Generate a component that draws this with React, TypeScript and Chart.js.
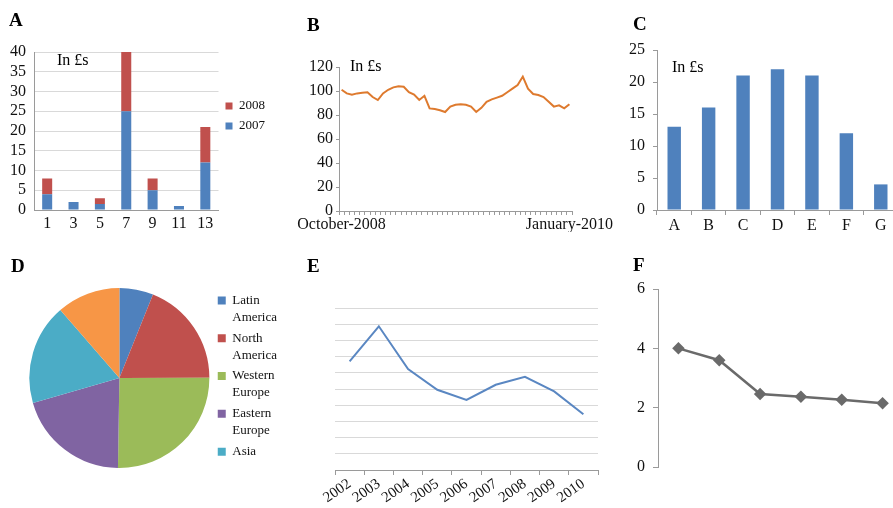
import React, { useEffect, useRef } from 'react';
import { Chart, registerables } from 'chart.js';
Chart.register(...registerables);

const SERIF = '"Liberation Serif", "Times New Roman", Times, serif';
Chart.defaults.font.family = SERIF;
Chart.defaults.font.size = 16;
Chart.defaults.color = '#111';

// ---------- Panel A ----------
const aCategories = ['1', '3', '5', '7', '9', '11', '13'];
const a2007 = [4, 2, 1.5, 25, 5, 1, 12];
const a2008 = [4, 0, 1.5, 15, 3, 0, 9];
const aSeriesNames = ['2007', '2008'];
const aTicks = { min: 0, max: 40, step: 5 };

// ---------- Panel B ----------
const bStartLabel = 'October-2008';
const bEndLabel = 'January-2010';
const bValues = [
  101, 98, 97, 98, 98.5, 99, 95, 92.5, 98, 101,
  103, 104, 103.5, 99, 97, 92.5, 96, 85.5, 85, 84,
  82.5, 87, 88.5, 89, 88.5, 87, 82.5, 86, 91, 93,
  94.5, 96, 99, 102, 105, 112, 102, 97.5, 96.7, 95,
  91, 87, 88, 85.5, 89,
];
const bTicks = { min: 0, max: 120, step: 20 };

// ---------- Panel C ----------
const cCategories = ['A', 'B', 'C', 'D', 'E', 'F', 'G'];
const cValues = [13, 16, 21, 22, 21, 12, 4];
const cTicks = { min: 0, max: 25, step: 5 };

// ---------- Panel D ----------
const dLabels = [['Latin', 'America'], ['North', 'America'], ['Western', 'Europe'], ['Eastern', 'Europe'], ['Asia'], ['Other']];
const dValues = [6.1, 18.9, 25.3, 20.3, 18.1, 11.4];
const dLegendCount = 5;

// ---------- Panel E ----------
const eYears = ['2002', '2003', '2004', '2005', '2006', '2007', '2008', '2009', '2010'];
const eValues = [6.7, 8.87, 6.23, 4.95, 4.33, 5.26, 5.75, 4.85, 3.44];
const eTicks = { min: 0, max: 10, step: 1 };

// ---------- Panel F ----------
const fCategories = ['1', '2', '3', '4', '5', '6'];
const fValues = [4.0, 3.6, 2.46, 2.37, 2.27, 2.15];
const fTicks = { min: 0, max: 6, step: 2 };

// ---------- styles ----------
const BLUE = '#4F81BD';
const RED = '#C0504D';
const GREEN = '#9BBB59';
const PURPLE = '#8064A2';
const TEAL = '#4BACC6';
const ORANGE = '#F79646';
const AXIS = '#9a9a9a';
const GRID = '#d9d9d9';

const LETTER_FONT = `bold 19px ${SERIF}`;
const LABEL_FONT = `16px ${SERIF}`;

const letterTitle = (text: string, top: number, bottom: number) => ({
  display: true,
  text,
  align: 'start' as const,
  color: '#000',
  font: { family: SERIF, size: 19, weight: 'bold' as const, lineHeight: 1.2 },
  padding: { top, bottom },
});

type TextItem = { text: string; x: number; y: number; font: string };
const textOverlay = (items: TextItem[]) => ({
  id: 'textOverlay',
  afterDraw(chart: any) {
    const ctx = chart.ctx;
    ctx.save();
    items.forEach((it) => {
      ctx.font = it.font;
      ctx.fillStyle = '#000';
      ctx.textBaseline = 'middle';
      ctx.textAlign = 'left';
      ctx.fillText(it.text, it.x, it.y);
    });
    ctx.restore();
  },
});

function configA() {
  return {
    type: 'bar',
    data: {
      labels: aCategories,
      datasets: [
        { label: aSeriesNames[0], data: a2007, backgroundColor: BLUE, borderWidth: 0, barPercentage: 0.38, categoryPercentage: 1 },
        { label: aSeriesNames[1], data: a2008, backgroundColor: RED, borderWidth: 0, barPercentage: 0.38, categoryPercentage: 1 },
      ],
    },
    options: {
      responsive: false,
      animation: false,
      layout: { padding: { left: 9, right: 0, top: 0, bottom: 0 } },
      plugins: {
        title: letterTitle('A', 9.5, 19.7),
        legend: {
          position: 'right',
          reverse: true,
          labels: { boxWidth: 7, boxHeight: 7, padding: 7, font: { size: 13 }, color: '#111' },
        },
        tooltip: { enabled: false },
      },
      scales: {
        x: {
          stacked: true,
          grid: { drawOnChartArea: false, drawTicks: false },
          border: { color: AXIS },
          ticks: { padding: 4 },
          afterFit: (s: any) => { s.height = 22; },
        },
        y: {
          stacked: true,
          min: aTicks.min,
          max: aTicks.max,
          ticks: { stepSize: aTicks.step, padding: 8, autoSkip: false },
          grid: { color: GRID, drawTicks: false },
          border: { color: AXIS },
          afterFit: (s: any) => { s.width = 25; },
        },
      },
    },
    plugins: [textOverlay([{ text: 'In £s', x: 57, y: 61, font: LABEL_FONT }])],
  };
}

function configB() {
  const labels = bValues.map((_, i) => (i === 0 ? bStartLabel : i === bValues.length - 1 ? bEndLabel : ''));
  return {
    type: 'line',
    data: {
      labels,
      datasets: [{ data: bValues, borderColor: '#DE7A2E', borderWidth: 2, pointRadius: 0, tension: 0, fill: false }],
    },
    options: {
      responsive: false,
      animation: false,
      layout: { padding: { left: 9, right: 48, top: 67, bottom: 0 } },
      plugins: {
        legend: { display: false },
        tooltip: { enabled: false },
      },
      scales: {
        x: {
          offset: true,
          grid: { offset: true, drawOnChartArea: false, tickLength: 4, color: AXIS },
          border: { color: AXIS },
          ticks: { autoSkip: false, maxRotation: 0, minRotation: 0, padding: 0 },
          afterFit: (s: any) => { s.height = 21; },
        },
        y: {
          min: bTicks.min,
          max: bTicks.max,
          ticks: { stepSize: bTicks.step, padding: 3, autoSkip: false },
          grid: { drawOnChartArea: false, tickLength: 3, color: AXIS },
          border: { color: AXIS },
          afterFit: (s: any) => { s.width = 40; },
        },
      },
    },
    plugins: [textOverlay([
      { text: 'B', x: 17, y: 26, font: LETTER_FONT },
      { text: 'In £s', x: 60, y: 67, font: LABEL_FONT },
    ])],
  };
}

function configC() {
  return {
    type: 'bar',
    data: {
      labels: cCategories,
      datasets: [{ data: cValues, backgroundColor: BLUE, borderWidth: 0, barPercentage: 0.39, categoryPercentage: 1 }],
    },
    options: {
      responsive: false,
      animation: false,
      layout: { padding: { left: 20, right: 2, top: 50, bottom: 0 } },
      plugins: {
        legend: { display: false },
        tooltip: { enabled: false },
      },
      scales: {
        x: {
          grid: { drawOnChartArea: false, tickLength: 5, color: AXIS },
          border: { color: AXIS },
          ticks: { padding: 1 },
          afterFit: (s: any) => { s.height = 22; },
        },
        y: {
          min: cTicks.min,
          max: cTicks.max,
          ticks: { stepSize: cTicks.step, padding: 8, autoSkip: false },
          grid: { drawOnChartArea: false, tickLength: 4, color: AXIS },
          border: { color: AXIS },
          afterFit: (s: any) => { s.width = 37; },
        },
      },
    },
    plugins: [textOverlay([
      { text: 'C', x: 33, y: 25, font: LETTER_FONT },
      { text: 'In £s', x: 72, y: 68, font: LABEL_FONT },
    ])],
  };
}

function configD() {
  return {
    type: 'pie',
    data: {
      labels: dLabels,
      datasets: [{ data: dValues, backgroundColor: [BLUE, RED, GREEN, PURPLE, TEAL, ORANGE], borderWidth: 0, radius: 90 }],
    },
    options: {
      responsive: false,
      animation: false,
      layout: { padding: { left: 25, right: 0, top: 0, bottom: 0 } },
      plugins: {
        legend: {
          position: 'right',
          labels: {
            boxWidth: 8,
            boxHeight: 8,
            padding: 4,
            color: '#111',
            font: { size: 13, lineHeight: 1.3 },
            filter: (item: any) => item.index < dLegendCount,
          },
        },
        tooltip: { enabled: false },
      },
    },
    plugins: [textOverlay([{ text: 'D', x: 11, y: 17, font: LETTER_FONT }])],
  };
}

function configE() {
  return {
    type: 'line',
    data: {
      labels: eYears,
      datasets: [{ data: eValues, borderColor: '#5A87C2', borderWidth: 2, pointRadius: 0, tension: 0, fill: false }],
    },
    options: {
      responsive: false,
      animation: false,
      layout: { padding: { left: 7, right: 2, top: 58, bottom: 0 } },
      plugins: {
        legend: { display: false },
        tooltip: { enabled: false },
      },
      scales: {
        x: {
          offset: true,
          grid: { offset: true, drawOnChartArea: false, tickLength: 5, color: AXIS },
          border: { color: AXIS },
          ticks: { minRotation: 35, maxRotation: 35, padding: 0, autoSkip: false, font: { size: 15 } },
          afterFit: (s: any) => { s.height = 38; },
        },
        y: {
          min: eTicks.min,
          max: eTicks.max,
          ticks: { display: false, stepSize: eTicks.step, autoSkip: false },
          grid: { color: GRID, drawTicks: false },
          border: { display: false },
          afterFit: (s: any) => { s.width = 28; },
        },
      },
    },
    plugins: [textOverlay([{ text: 'E', x: 7, y: 17, font: LETTER_FONT }])],
  };
}

function configF() {
  return {
    type: 'line',
    data: {
      labels: fCategories,
      datasets: [{
        data: fValues, borderColor: '#6a6a6a', borderWidth: 2.5, tension: 0, fill: false,
        pointStyle: 'rectRot', pointRadius: 4.5, pointBackgroundColor: '#6a6a6a', pointBorderColor: '#6a6a6a',
      }],
    },
    options: {
      responsive: false,
      animation: false,
      layout: { padding: { left: 20, right: 4, top: 39, bottom: 41 } },
      plugins: {
        legend: { display: false },
        tooltip: { enabled: false },
      },
      scales: {
        x: { display: false, offset: true },
        y: {
          min: fTicks.min,
          max: fTicks.max,
          ticks: { stepSize: fTicks.step, padding: 8, autoSkip: false },
          grid: { drawOnChartArea: false, tickLength: 5, color: AXIS },
          border: { color: AXIS },
          afterFit: (s: any) => { s.width = 38; },
        },
      },
    },
    plugins: [textOverlay([{ text: 'F', x: 33, y: 16, font: LETTER_FONT }])],
  };
}

function Panel({ left, top, width, height, make }: { left: number; top: number; width: number; height: number; make: () => any }) {
  const ref = useRef<HTMLCanvasElement>(null);
  useEffect(() => {
    const chart = new Chart(ref.current as HTMLCanvasElement, make());
    return () => chart.destroy();
  }, []);
  return (
    <canvas
      ref={ref}
      width={width}
      height={height}
      style={{ position: 'absolute', left, top, width, height }}
    />
  );
}

export default function App() {
  return (
    <div style={{ position: 'fixed', left: 0, top: 0, width: 893, height: 508, overflow: 'hidden', background: '#fff' }}>
      <Panel left={0} top={0} width={275} height={232} make={configA} />
      <Panel left={290} top={0} width={330} height={232} make={configB} />
      <Panel left={600} top={0} width={300} height={232} make={configC} />
      <Panel left={0} top={250} width={287} height={256} make={configD} />
      <Panel left={300} top={250} width={300} height={258} make={configE} />
      <Panel left={600} top={250} width={310} height={258} make={configF} />
    </div>
  );
}
